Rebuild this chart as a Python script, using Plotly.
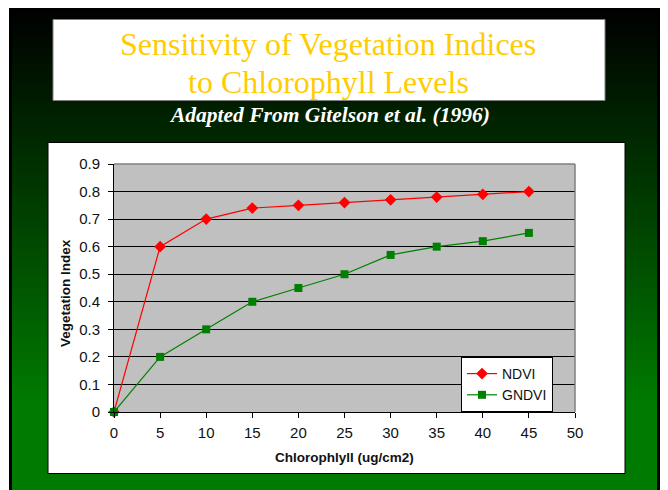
import plotly.graph_objects as go

# ---- data ----
chlorophyll = [0, 5, 10, 15, 20, 25, 30, 35, 40, 45]
ndvi = [0.0, 0.60, 0.70, 0.74, 0.75, 0.76, 0.77, 0.78, 0.79, 0.80]
gndvi = [0.0, 0.20, 0.30, 0.40, 0.45, 0.50, 0.57, 0.60, 0.62, 0.65]
series_names = ["NDVI", "GNDVI"]
title_line1 = "Sensitivity of Vegetation Indices"
title_line2 = "to Chlorophyll Levels"
subtitle = "Adapted From Gitelson et al. (1996)"
x_title = "Chlorophlyll (ug/cm2)"
y_title = "Vegetation Index"

OFF = 8  # page body margin offset
W, H = 668 - OFF, 490 - OFF
L, R, T, B = 114, 575, 164, 412  # plot area in page pixels


def px(x):
    return (x - L) / (R - L)


def py(y):
    return (B - y) / (B - T)


shapes = []
# outer dark frame
shapes.append(dict(type="rect", xref="paper", yref="paper", x0=px(9), x1=px(660),
                   y0=py(5), y1=py(500), fillcolor="#000000", line=dict(width=0), layer="below"))
# gradient bands (black -> green)
g_top, g_bot = 8, 400
step = 3
y = g_top
while y < 500:
    t = min(max((y - g_top) / (g_bot - g_top), 0), 1)
    g = int(round(122 * t))
    shapes.append(dict(type="rect", xref="paper", yref="paper", x0=px(12), x1=px(657),
                       y0=py(y), y1=py(y + step + 0.6), fillcolor=f"rgb(0,{g},0)",
                       line=dict(width=0), layer="below"))
    y += step
# title box
shapes.append(dict(type="rect", xref="paper", yref="paper", x0=px(53), x1=px(605),
                   y0=py(19.5), y1=py(100.5), fillcolor="#FFFFFF",
                   line=dict(color="#7F7F7F", width=1), layer="below"))
# chart box
shapes.append(dict(type="rect", xref="paper", yref="paper", x0=px(48), x1=px(625),
                   y0=py(142.5), y1=py(473.5), fillcolor="#FFFFFF",
                   line=dict(color="#000000", width=1), layer="below"))
# plot area
shapes.append(dict(type="rect", xref="paper", yref="paper", x0=0, x1=1, y0=0, y1=1,
                   fillcolor="#C0C0C0", line=dict(width=0), layer="below"))
# gray top/right border
shapes.append(dict(type="line", xref="paper", yref="paper", x0=0, x1=1, y0=1, y1=1,
                   line=dict(color="#808080", width=1.5), layer="above"))
shapes.append(dict(type="line", xref="paper", yref="paper", x0=1, x1=1, y0=0, y1=1,
                   line=dict(color="#808080", width=1.5), layer="above"))

fig = go.Figure()
fig.add_trace(go.Scatter(x=chlorophyll, y=ndvi, name=series_names[0], mode="lines+markers",
                         line=dict(color="#FF0000", width=1.2),
                         marker=dict(symbol="diamond", size=9, color="#FF0000"),
                         cliponaxis=False))
fig.add_trace(go.Scatter(x=chlorophyll, y=gndvi, name=series_names[1], mode="lines+markers",
                         line=dict(color="#008000", width=1.2),
                         marker=dict(symbol="square", size=8, color="#008000"),
                         cliponaxis=False))

serif = "Liberation Serif, Times New Roman, serif"
sans = "Liberation Sans, Arial, sans-serif"
annotations = [
    dict(text=title_line1, x=px(328), y=py(44), xref="paper", yref="paper", showarrow=False,
         xanchor="center", yanchor="middle",
         font=dict(family=serif, size=32, color="#FFCC00")),
    dict(text=title_line2, x=px(328), y=py(82), xref="paper", yref="paper", showarrow=False,
         xanchor="center", yanchor="middle",
         font=dict(family=serif, size=32, color="#FFCC00")),
    dict(text="<b><i>" + subtitle + "</i></b>", x=px(329), y=py(115), xref="paper", yref="paper",
         showarrow=False, xanchor="center", yanchor="middle",
         font=dict(family=serif, size=21.5, color="#FFFFFF")),
    dict(text="<b>" + x_title + "</b>", x=px(344), y=py(457), xref="paper", yref="paper",
         showarrow=False, xanchor="center", yanchor="middle",
         font=dict(family=sans, size=13.5, color="#111111")),
    dict(text="<b>" + y_title + "</b>", x=px(65), y=py(293), xref="paper", yref="paper",
         showarrow=False, xanchor="center", yanchor="middle", textangle=-90,
         font=dict(family=sans, size=13.5, color="#111111")),
]

tickfont = dict(family=sans, size=15, color="#111111")
fig.update_layout(
    width=W, height=H,
    margin=dict(l=L - OFF, r=W - (R - OFF), t=T - OFF, b=H - (B - OFF), pad=0),
    paper_bgcolor="#FFFFFF",
    plot_bgcolor="rgba(0,0,0,0)",
    shapes=shapes,
    annotations=annotations,
    showlegend=True,
    legend=dict(x=px(461), y=py(357), xanchor="left", yanchor="top",
                bgcolor="#FFFFFF", bordercolor="#000000", borderwidth=1,
                font=dict(family=sans, size=14, color="#111111"),
                tracegroupgap=0),
    xaxis=dict(range=[0, 50], tick0=0, dtick=5, showgrid=False, zeroline=False,
               showline=True, linecolor="#000000", linewidth=1,
               ticks="outside", ticklen=5, tickcolor="#000000", tickwidth=1,
               ticklabelstandoff=2,
               tickfont=tickfont, fixedrange=True),
    yaxis=dict(range=[0, 0.9], tick0=0, dtick=0.1, showgrid=True, gridcolor="#000000",
               gridwidth=1, zeroline=False,
               showline=True, linecolor="#000000", linewidth=1,
               ticks="outside", ticklen=5, tickcolor="#000000", tickwidth=1,
               ticklabelstandoff=5,
               tickfont=tickfont, fixedrange=True),
)

fig.write_html("out.html")
